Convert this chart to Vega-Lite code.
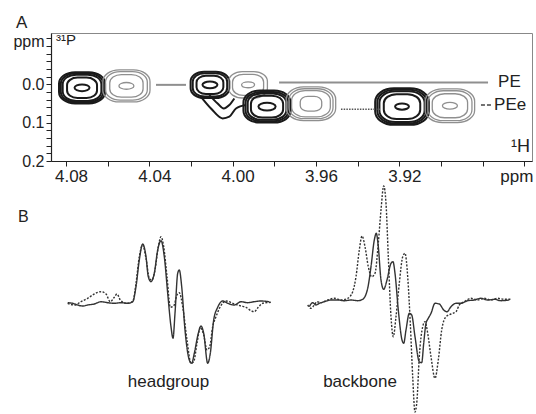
{
  "$schema": "https://vega.github.io/schema/vega-lite/v6.json",
  "padding": {"left": 5, "top": 13, "right": 0, "bottom": 0},
  "config": {
    "font": "Liberation Sans",
    "view": {"stroke": null},
    "concat": {"spacing": -4}
  },
  "datasets": {
    "contours": [
      {"peak": "b1", "spectrum": "S1", "kind": "ring", "h_ppm": 4.0723, "p_ppm": 0.009, "width": 0.0206},
      {"peak": "b1", "spectrum": "S1", "kind": "ring", "h_ppm": 4.0723, "p_ppm": 0.009, "width": 0.0190},
      {"peak": "b1", "spectrum": "S1", "kind": "ring", "h_ppm": 4.0723, "p_ppm": 0.009, "width": 0.0173},
      {"peak": "b1", "spectrum": "S1", "kind": "ring", "h_ppm": 4.0723, "p_ppm": 0.009, "width": 0.0134},
      {"peak": "b1", "spectrum": "S1", "kind": "core", "h_ppm": 4.0723, "p_ppm": 0.009, "width": 0.0067},
      {"peak": "g1", "spectrum": "S2", "kind": "ring", "h_ppm": 4.051, "p_ppm": 0.004, "width": 0.0211},
      {"peak": "g1", "spectrum": "S2", "kind": "ring", "h_ppm": 4.051, "p_ppm": 0.004, "width": 0.0187},
      {"peak": "g1", "spectrum": "S2", "kind": "ring", "h_ppm": 4.051, "p_ppm": 0.004, "width": 0.0149},
      {"peak": "g1", "spectrum": "S2", "kind": "core", "h_ppm": 4.051, "p_ppm": 0.004, "width": 0.0067},
      {"peak": "b2", "spectrum": "S1", "kind": "ring", "h_ppm": 4.0109, "p_ppm": 0.0013, "width": 0.0173},
      {"peak": "b2", "spectrum": "S1", "kind": "ring", "h_ppm": 4.0109, "p_ppm": 0.0013, "width": 0.0154},
      {"peak": "b2", "spectrum": "S1", "kind": "ring", "h_ppm": 4.0109, "p_ppm": 0.0013, "width": 0.0120},
      {"peak": "b2", "spectrum": "S1", "kind": "core", "h_ppm": 4.0109, "p_ppm": 0.0013, "width": 0.0067},
      {"peak": "g2", "spectrum": "S2", "kind": "ring", "h_ppm": 3.9926, "p_ppm": 0.0013, "width": 0.0173},
      {"peak": "g2", "spectrum": "S2", "kind": "ring", "h_ppm": 3.9926, "p_ppm": 0.0013, "width": 0.0139},
      {"peak": "g2", "spectrum": "S2", "kind": "core", "h_ppm": 3.9926, "p_ppm": 0.0013, "width": 0.0058},
      {"peak": "b3", "spectrum": "S1", "kind": "ring", "h_ppm": 3.9835, "p_ppm": 0.058, "width": 0.0211},
      {"peak": "b3", "spectrum": "S1", "kind": "ring", "h_ppm": 3.9835, "p_ppm": 0.058, "width": 0.0192},
      {"peak": "b3", "spectrum": "S1", "kind": "ring", "h_ppm": 3.9835, "p_ppm": 0.058, "width": 0.0173},
      {"peak": "b3", "spectrum": "S1", "kind": "ring", "h_ppm": 3.9835, "p_ppm": 0.058, "width": 0.0144},
      {"peak": "b3", "spectrum": "S1", "kind": "core", "h_ppm": 3.9835, "p_ppm": 0.058, "width": 0.0077},
      {"peak": "g3", "spectrum": "S2", "kind": "ring", "h_ppm": 3.9624, "p_ppm": 0.0506, "width": 0.0221},
      {"peak": "g3", "spectrum": "S2", "kind": "ring", "h_ppm": 3.9624, "p_ppm": 0.0506, "width": 0.0197},
      {"peak": "g3", "spectrum": "S2", "kind": "ring", "h_ppm": 3.9624, "p_ppm": 0.0506, "width": 0.0173},
      {"peak": "g3", "spectrum": "S2", "kind": "ring", "h_ppm": 3.9624, "p_ppm": 0.0506, "width": 0.0096},
      {"peak": "b4", "spectrum": "S1", "kind": "ring", "h_ppm": 3.9187, "p_ppm": 0.058, "width": 0.0240},
      {"peak": "b4", "spectrum": "S1", "kind": "ring", "h_ppm": 3.9187, "p_ppm": 0.058, "width": 0.0221},
      {"peak": "b4", "spectrum": "S1", "kind": "ring", "h_ppm": 3.9187, "p_ppm": 0.058, "width": 0.0202},
      {"peak": "b4", "spectrum": "S1", "kind": "ring", "h_ppm": 3.9187, "p_ppm": 0.058, "width": 0.0163},
      {"peak": "b4", "spectrum": "S1", "kind": "core", "h_ppm": 3.9187, "p_ppm": 0.058, "width": 0.0062},
      {"peak": "g4", "spectrum": "S2", "kind": "ring", "h_ppm": 3.8957, "p_ppm": 0.0558, "width": 0.0221},
      {"peak": "g4", "spectrum": "S2", "kind": "ring", "h_ppm": 3.8957, "p_ppm": 0.0558, "width": 0.0197},
      {"peak": "g4", "spectrum": "S2", "kind": "ring", "h_ppm": 3.8957, "p_ppm": 0.0558, "width": 0.0158},
      {"peak": "g4", "spectrum": "S2", "kind": "core", "h_ppm": 3.8957, "p_ppm": 0.0558, "width": 0.0067}
    ],
    "lobe": [
      {"contour": "outer", "h_ppm": 4.0152, "p_ppm": 0.0325},
      {"contour": "outer", "h_ppm": 4.0104, "p_ppm": 0.0629},
      {"contour": "outer", "h_ppm": 4.0048, "p_ppm": 0.0888},
      {"contour": "outer", "h_ppm": 4.0016, "p_ppm": 0.0844},
      {"contour": "outer", "h_ppm": 3.9984, "p_ppm": 0.0629},
      {"contour": "outer", "h_ppm": 3.9936, "p_ppm": 0.054},
      {"contour": "inner", "h_ppm": 4.0112, "p_ppm": 0.028},
      {"contour": "inner", "h_ppm": 4.0072, "p_ppm": 0.0499},
      {"contour": "inner", "h_ppm": 4.0043, "p_ppm": 0.0629},
      {"contour": "inner", "h_ppm": 4.0016, "p_ppm": 0.054},
      {"contour": "inner", "h_ppm": 3.9992, "p_ppm": 0.0369}
    ],
    "links": [
      {"species": "PE", "role": "link", "from": 4.0368, "to": 4.0224, "p_ppm": 0.0013},
      {"species": "PE", "role": "link", "from": 3.9777, "to": 3.8774, "p_ppm": -0.0047},
      {"species": "PEe", "role": "link", "from": 3.948, "to": 3.9293, "p_ppm": 0.065},
      {"species": "PEe", "role": "key", "from": 3.8808, "to": 3.876, "p_ppm": 0.054}
    ],
    "species": [
      {"label": "PE", "h_ppm": 3.8726, "p_ppm": 0.0065},
      {"label": "PEe", "h_ppm": 3.8745, "p_ppm": 0.067}
    ],
    "traces": [
      {"trace": "headgroup", "kind": "experiment", "pos": 16.7, "intensity": -0.7},
      {"trace": "headgroup", "kind": "experiment", "pos": 21.7, "intensity": -1.3},
      {"trace": "headgroup", "kind": "experiment", "pos": 26.7, "intensity": -3},
      {"trace": "headgroup", "kind": "experiment", "pos": 31.7, "intensity": -4},
      {"trace": "headgroup", "kind": "experiment", "pos": 36.7, "intensity": -3},
      {"trace": "headgroup", "kind": "experiment", "pos": 43.3, "intensity": -2},
      {"trace": "headgroup", "kind": "experiment", "pos": 50, "intensity": 0.3},
      {"trace": "headgroup", "kind": "experiment", "pos": 56.7, "intensity": -0.7},
      {"trace": "headgroup", "kind": "experiment", "pos": 63.3, "intensity": -1.3},
      {"trace": "headgroup", "kind": "experiment", "pos": 70, "intensity": -0.7},
      {"trace": "headgroup", "kind": "experiment", "pos": 76.7, "intensity": -1.3},
      {"trace": "headgroup", "kind": "experiment", "pos": 81.7, "intensity": 0.3},
      {"trace": "headgroup", "kind": "experiment", "pos": 85, "intensity": 15.3},
      {"trace": "headgroup", "kind": "experiment", "pos": 88.3, "intensity": 42},
      {"trace": "headgroup", "kind": "experiment", "pos": 91.7, "intensity": 58},
      {"trace": "headgroup", "kind": "experiment", "pos": 95, "intensity": 45.3},
      {"trace": "headgroup", "kind": "experiment", "pos": 97.3, "intensity": 25.3},
      {"trace": "headgroup", "kind": "experiment", "pos": 100, "intensity": 20.3},
      {"trace": "headgroup", "kind": "experiment", "pos": 103.3, "intensity": 28.7},
      {"trace": "headgroup", "kind": "experiment", "pos": 106.7, "intensity": 52},
      {"trace": "headgroup", "kind": "experiment", "pos": 110, "intensity": 61.3},
      {"trace": "headgroup", "kind": "experiment", "pos": 113.3, "intensity": 45.3},
      {"trace": "headgroup", "kind": "experiment", "pos": 116.7, "intensity": 8.7},
      {"trace": "headgroup", "kind": "experiment", "pos": 120, "intensity": -24.7},
      {"trace": "headgroup", "kind": "experiment", "pos": 122, "intensity": -36.3},
      {"trace": "headgroup", "kind": "experiment", "pos": 124, "intensity": -11.3},
      {"trace": "headgroup", "kind": "experiment", "pos": 126.7, "intensity": 28.7},
      {"trace": "headgroup", "kind": "experiment", "pos": 128.3, "intensity": 32},
      {"trace": "headgroup", "kind": "experiment", "pos": 130.7, "intensity": 15.3},
      {"trace": "headgroup", "kind": "experiment", "pos": 134, "intensity": -28},
      {"trace": "headgroup", "kind": "experiment", "pos": 138.3, "intensity": -58},
      {"trace": "headgroup", "kind": "experiment", "pos": 140.7, "intensity": -61.3},
      {"trace": "headgroup", "kind": "experiment", "pos": 143.3, "intensity": -51.3},
      {"trace": "headgroup", "kind": "experiment", "pos": 147.3, "intensity": -31.3},
      {"trace": "headgroup", "kind": "experiment", "pos": 150, "intensity": -24},
      {"trace": "headgroup", "kind": "experiment", "pos": 152.7, "intensity": -31.3},
      {"trace": "headgroup", "kind": "experiment", "pos": 156.7, "intensity": -61.3},
      {"trace": "headgroup", "kind": "experiment", "pos": 159.3, "intensity": -51.3},
      {"trace": "headgroup", "kind": "experiment", "pos": 162.7, "intensity": -18},
      {"trace": "headgroup", "kind": "experiment", "pos": 166.7, "intensity": -5.3},
      {"trace": "headgroup", "kind": "experiment", "pos": 171.7, "intensity": 1},
      {"trace": "headgroup", "kind": "experiment", "pos": 176.7, "intensity": -1.3},
      {"trace": "headgroup", "kind": "experiment", "pos": 183.3, "intensity": -3},
      {"trace": "headgroup", "kind": "experiment", "pos": 190, "intensity": 0.3},
      {"trace": "headgroup", "kind": "experiment", "pos": 196.7, "intensity": -0.7},
      {"trace": "headgroup", "kind": "experiment", "pos": 203.3, "intensity": 0.3},
      {"trace": "headgroup", "kind": "experiment", "pos": 210, "intensity": 1},
      {"trace": "headgroup", "kind": "experiment", "pos": 218.3, "intensity": 0.3},
      {"trace": "headgroup", "kind": "simulation", "pos": 16.7, "intensity": -1.3},
      {"trace": "headgroup", "kind": "simulation", "pos": 23.3, "intensity": -3},
      {"trace": "headgroup", "kind": "simulation", "pos": 30, "intensity": 0.3},
      {"trace": "headgroup", "kind": "simulation", "pos": 36.7, "intensity": 3.7},
      {"trace": "headgroup", "kind": "simulation", "pos": 43.3, "intensity": 8},
      {"trace": "headgroup", "kind": "simulation", "pos": 50, "intensity": 10.3},
      {"trace": "headgroup", "kind": "simulation", "pos": 55, "intensity": 8},
      {"trace": "headgroup", "kind": "simulation", "pos": 59.3, "intensity": 0.3},
      {"trace": "headgroup", "kind": "simulation", "pos": 63.3, "intensity": 4.7},
      {"trace": "headgroup", "kind": "simulation", "pos": 66, "intensity": 8},
      {"trace": "headgroup", "kind": "simulation", "pos": 69.3, "intensity": 2},
      {"trace": "headgroup", "kind": "simulation", "pos": 75, "intensity": -1.3},
      {"trace": "headgroup", "kind": "simulation", "pos": 81.7, "intensity": 0.3},
      {"trace": "headgroup", "kind": "simulation", "pos": 85, "intensity": 18.7},
      {"trace": "headgroup", "kind": "simulation", "pos": 88.3, "intensity": 45.3},
      {"trace": "headgroup", "kind": "simulation", "pos": 91.7, "intensity": 57},
      {"trace": "headgroup", "kind": "simulation", "pos": 95, "intensity": 43.7},
      {"trace": "headgroup", "kind": "simulation", "pos": 98.3, "intensity": 23.7},
      {"trace": "headgroup", "kind": "simulation", "pos": 100.7, "intensity": 22},
      {"trace": "headgroup", "kind": "simulation", "pos": 104, "intensity": 32},
      {"trace": "headgroup", "kind": "simulation", "pos": 107.3, "intensity": 55.3},
      {"trace": "headgroup", "kind": "simulation", "pos": 110, "intensity": 65.3},
      {"trace": "headgroup", "kind": "simulation", "pos": 112.7, "intensity": 55.3},
      {"trace": "headgroup", "kind": "simulation", "pos": 116, "intensity": 25.3},
      {"trace": "headgroup", "kind": "simulation", "pos": 119.3, "intensity": -5.3},
      {"trace": "headgroup", "kind": "simulation", "pos": 122.7, "intensity": -4},
      {"trace": "headgroup", "kind": "simulation", "pos": 126, "intensity": 7},
      {"trace": "headgroup", "kind": "simulation", "pos": 128.3, "intensity": 9.3},
      {"trace": "headgroup", "kind": "simulation", "pos": 131.7, "intensity": -4.7},
      {"trace": "headgroup", "kind": "simulation", "pos": 136, "intensity": -38},
      {"trace": "headgroup", "kind": "simulation", "pos": 140, "intensity": -61.3},
      {"trace": "headgroup", "kind": "simulation", "pos": 142.7, "intensity": -59.7},
      {"trace": "headgroup", "kind": "simulation", "pos": 146, "intensity": -41.3},
      {"trace": "headgroup", "kind": "simulation", "pos": 149.3, "intensity": -25.3},
      {"trace": "headgroup", "kind": "simulation", "pos": 152.7, "intensity": -33},
      {"trace": "headgroup", "kind": "simulation", "pos": 156, "intensity": -48},
      {"trace": "headgroup", "kind": "simulation", "pos": 158.7, "intensity": -44.7},
      {"trace": "headgroup", "kind": "simulation", "pos": 161.7, "intensity": -24.7},
      {"trace": "headgroup", "kind": "simulation", "pos": 165, "intensity": -14.7},
      {"trace": "headgroup", "kind": "simulation", "pos": 169.3, "intensity": -4.7},
      {"trace": "headgroup", "kind": "simulation", "pos": 175, "intensity": 1},
      {"trace": "headgroup", "kind": "simulation", "pos": 183.3, "intensity": -2},
      {"trace": "headgroup", "kind": "simulation", "pos": 190, "intensity": -4},
      {"trace": "headgroup", "kind": "simulation", "pos": 195, "intensity": -5.3},
      {"trace": "headgroup", "kind": "simulation", "pos": 200, "intensity": -8.7},
      {"trace": "headgroup", "kind": "simulation", "pos": 203.3, "intensity": -9.7},
      {"trace": "headgroup", "kind": "simulation", "pos": 207.3, "intensity": -5.3},
      {"trace": "headgroup", "kind": "simulation", "pos": 211.7, "intensity": -1.3},
      {"trace": "headgroup", "kind": "simulation", "pos": 220, "intensity": -0.3},
      {"trace": "backbone", "kind": "experiment", "pos": 258.3, "intensity": -4.7},
      {"trace": "backbone", "kind": "experiment", "pos": 261.7, "intensity": -0.7},
      {"trace": "backbone", "kind": "experiment", "pos": 265, "intensity": -3},
      {"trace": "backbone", "kind": "experiment", "pos": 268.3, "intensity": -1.3},
      {"trace": "backbone", "kind": "experiment", "pos": 273.3, "intensity": 0.3},
      {"trace": "backbone", "kind": "experiment", "pos": 280, "intensity": 2},
      {"trace": "backbone", "kind": "experiment", "pos": 286.7, "intensity": 2},
      {"trace": "backbone", "kind": "experiment", "pos": 293.3, "intensity": 1.3},
      {"trace": "backbone", "kind": "experiment", "pos": 300, "intensity": 2},
      {"trace": "backbone", "kind": "experiment", "pos": 306.7, "intensity": 1.3},
      {"trace": "backbone", "kind": "experiment", "pos": 311.7, "intensity": 2.7},
      {"trace": "backbone", "kind": "experiment", "pos": 316.7, "intensity": 13.7},
      {"trace": "backbone", "kind": "experiment", "pos": 320, "intensity": 35.3},
      {"trace": "backbone", "kind": "experiment", "pos": 323.3, "intensity": 62},
      {"trace": "backbone", "kind": "experiment", "pos": 325.3, "intensity": 68.7},
      {"trace": "backbone", "kind": "experiment", "pos": 327.3, "intensity": 55.3},
      {"trace": "backbone", "kind": "experiment", "pos": 330, "intensity": 22},
      {"trace": "backbone", "kind": "experiment", "pos": 332.7, "intensity": 12.7},
      {"trace": "backbone", "kind": "experiment", "pos": 336, "intensity": 22},
      {"trace": "backbone", "kind": "experiment", "pos": 340, "intensity": 38.7},
      {"trace": "backbone", "kind": "experiment", "pos": 342, "intensity": 40.3},
      {"trace": "backbone", "kind": "experiment", "pos": 344, "intensity": 28.7},
      {"trace": "backbone", "kind": "experiment", "pos": 347.3, "intensity": -8},
      {"trace": "backbone", "kind": "experiment", "pos": 351, "intensity": -38},
      {"trace": "backbone", "kind": "experiment", "pos": 352.7, "intensity": -41.3},
      {"trace": "backbone", "kind": "experiment", "pos": 355, "intensity": -28},
      {"trace": "backbone", "kind": "experiment", "pos": 358.3, "intensity": -11.3},
      {"trace": "backbone", "kind": "experiment", "pos": 360.7, "intensity": -13},
      {"trace": "backbone", "kind": "experiment", "pos": 364, "intensity": -34.7},
      {"trace": "backbone", "kind": "experiment", "pos": 368.3, "intensity": -59.7},
      {"trace": "backbone", "kind": "experiment", "pos": 370.7, "intensity": -60.7},
      {"trace": "backbone", "kind": "experiment", "pos": 372.7, "intensity": -41.3},
      {"trace": "backbone", "kind": "experiment", "pos": 375, "intensity": -21.3},
      {"trace": "backbone", "kind": "experiment", "pos": 377.3, "intensity": -16.3},
      {"trace": "backbone", "kind": "experiment", "pos": 380, "intensity": -11.3},
      {"trace": "backbone", "kind": "experiment", "pos": 384, "intensity": -1.3},
      {"trace": "backbone", "kind": "experiment", "pos": 388.3, "intensity": -2},
      {"trace": "backbone", "kind": "experiment", "pos": 392.7, "intensity": -8},
      {"trace": "backbone", "kind": "experiment", "pos": 396, "intensity": -9.7},
      {"trace": "backbone", "kind": "experiment", "pos": 400, "intensity": -4.7},
      {"trace": "backbone", "kind": "experiment", "pos": 405, "intensity": -1.3},
      {"trace": "backbone", "kind": "experiment", "pos": 410, "intensity": -1.3},
      {"trace": "backbone", "kind": "experiment", "pos": 416.7, "intensity": 1.3},
      {"trace": "backbone", "kind": "experiment", "pos": 423.3, "intensity": 2},
      {"trace": "backbone", "kind": "experiment", "pos": 430, "intensity": 3.7},
      {"trace": "backbone", "kind": "experiment", "pos": 436.7, "intensity": 2},
      {"trace": "backbone", "kind": "experiment", "pos": 443.3, "intensity": 2.7},
      {"trace": "backbone", "kind": "experiment", "pos": 450, "intensity": 1.3},
      {"trace": "backbone", "kind": "experiment", "pos": 458.3, "intensity": 2},
      {"trace": "backbone", "kind": "simulation", "pos": 256.7, "intensity": -3},
      {"trace": "backbone", "kind": "simulation", "pos": 260, "intensity": -6.3},
      {"trace": "backbone", "kind": "simulation", "pos": 263.3, "intensity": -3},
      {"trace": "backbone", "kind": "simulation", "pos": 266, "intensity": 0.3},
      {"trace": "backbone", "kind": "simulation", "pos": 270, "intensity": -0.7},
      {"trace": "backbone", "kind": "simulation", "pos": 276.7, "intensity": 2},
      {"trace": "backbone", "kind": "simulation", "pos": 283.3, "intensity": 3.7},
      {"trace": "backbone", "kind": "simulation", "pos": 290, "intensity": 2},
      {"trace": "backbone", "kind": "simulation", "pos": 296.7, "intensity": 3.7},
      {"trace": "backbone", "kind": "simulation", "pos": 301.7, "intensity": 10.3},
      {"trace": "backbone", "kind": "simulation", "pos": 305, "intensity": 25.3},
      {"trace": "backbone", "kind": "simulation", "pos": 308.3, "intensity": 52},
      {"trace": "backbone", "kind": "simulation", "pos": 311, "intensity": 66},
      {"trace": "backbone", "kind": "simulation", "pos": 314, "intensity": 55.3},
      {"trace": "backbone", "kind": "simulation", "pos": 317.3, "intensity": 35.3},
      {"trace": "backbone", "kind": "simulation", "pos": 320.7, "intensity": 25.3},
      {"trace": "backbone", "kind": "simulation", "pos": 324, "intensity": 28.7},
      {"trace": "backbone", "kind": "simulation", "pos": 327.3, "intensity": 58.7},
      {"trace": "backbone", "kind": "simulation", "pos": 330, "intensity": 92},
      {"trace": "backbone", "kind": "simulation", "pos": 332.7, "intensity": 116},
      {"trace": "backbone", "kind": "simulation", "pos": 335, "intensity": 98.7},
      {"trace": "backbone", "kind": "simulation", "pos": 337.3, "intensity": 45.3},
      {"trace": "backbone", "kind": "simulation", "pos": 340, "intensity": -14.7},
      {"trace": "backbone", "kind": "simulation", "pos": 342.3, "intensity": -34.7},
      {"trace": "backbone", "kind": "simulation", "pos": 345, "intensity": -14.7},
      {"trace": "backbone", "kind": "simulation", "pos": 348.3, "intensity": 18.7},
      {"trace": "backbone", "kind": "simulation", "pos": 351.7, "intensity": 45.3},
      {"trace": "backbone", "kind": "simulation", "pos": 354, "intensity": 48.7},
      {"trace": "backbone", "kind": "simulation", "pos": 356.7, "intensity": 25.3},
      {"trace": "backbone", "kind": "simulation", "pos": 359.3, "intensity": -21.3},
      {"trace": "backbone", "kind": "simulation", "pos": 361.7, "intensity": -74.7},
      {"trace": "backbone", "kind": "simulation", "pos": 364, "intensity": -110},
      {"trace": "backbone", "kind": "simulation", "pos": 366, "intensity": -98},
      {"trace": "backbone", "kind": "simulation", "pos": 368.3, "intensity": -54.7},
      {"trace": "backbone", "kind": "simulation", "pos": 371.7, "intensity": -24.7},
      {"trace": "backbone", "kind": "simulation", "pos": 374, "intensity": -19.7},
      {"trace": "backbone", "kind": "simulation", "pos": 376.7, "intensity": -31.3},
      {"trace": "backbone", "kind": "simulation", "pos": 380, "intensity": -54.7},
      {"trace": "backbone", "kind": "simulation", "pos": 384, "intensity": -76.3},
      {"trace": "backbone", "kind": "simulation", "pos": 387.3, "intensity": -58},
      {"trace": "backbone", "kind": "simulation", "pos": 390.7, "intensity": -28},
      {"trace": "backbone", "kind": "simulation", "pos": 395, "intensity": -14.7},
      {"trace": "backbone", "kind": "simulation", "pos": 400, "intensity": -12},
      {"trace": "backbone", "kind": "simulation", "pos": 405, "intensity": -9.7},
      {"trace": "backbone", "kind": "simulation", "pos": 408.3, "intensity": -3},
      {"trace": "backbone", "kind": "simulation", "pos": 413.3, "intensity": 0.3},
      {"trace": "backbone", "kind": "simulation", "pos": 420, "intensity": 3.7},
      {"trace": "backbone", "kind": "simulation", "pos": 426.7, "intensity": 2},
      {"trace": "backbone", "kind": "simulation", "pos": 433.3, "intensity": 3.7},
      {"trace": "backbone", "kind": "simulation", "pos": 440, "intensity": 2},
      {"trace": "backbone", "kind": "simulation", "pos": 446.7, "intensity": 3.7},
      {"trace": "backbone", "kind": "simulation", "pos": 453.3, "intensity": 2.7},
      {"trace": "backbone", "kind": "simulation", "pos": 460, "intensity": 2.7}
    ],
    "trace_labels": [
      {"label": "headgroup", "pos": 117.5, "intensity": -85},
      {"label": "backbone", "pos": 309, "intensity": -85}
    ]
  },
  "vconcat": [
    {
      "width": 481,
      "height": 128,
      "title": {"text": "A", "anchor": "start", "frame": "group", "dx": -35, "fontSize": 17, "fontWeight": "normal", "offset": -2, "color": "#222", "font": "Liberation Sans"},
      "view": {"stroke": "#888", "strokeWidth": 1},
      "layer": [
        {
          "data": {"name": "contours"},
          "mark": {"type": "point", "filled": false, "opacity": 1},
          "encoding": {
            "x": {
              "field": "h_ppm", "type": "quantitative",
              "scale": {"domain": [4.0872, 3.8563], "nice": false, "zero": false},
              "axis": {
                "orient": "bottom",
                "title": null,
                "grid": false,
                "values": [4.08, 4.07, 4.06, 4.05, 4.04, 4.03, 4.02, 4.01, 4.0, 3.99, 3.98, 3.97, 3.96, 3.95, 3.94, 3.93, 3.92, 3.91, 3.9, 3.89, 3.88, 3.87, 3.86],
                "labelExpr": "datum.value < 3.865 ? 'ppm' : ((abs(datum.value*25 - round(datum.value*25)) < 0.01 && datum.value > 3.9) ? format(datum.value, '.2f') : '')",
                "domainColor": "#222", "domainWidth": 1.2,
                "tickColor": "#222", "tickSize": 5, "tickWidth": 1,
                "labelFontSize": 17, "labelColor": "#222", "labelPadding": 2,
                "labelOffset": {"condition": {"test": "datum.value < 3.865", "value": -8}, "value": 5},
                "labelFlush": false, "labelOverlap": false, "labelBound": false
              }
            },
            "y": {
              "field": "p_ppm", "type": "quantitative",
              "scale": {"domain": [0.2, -0.134], "nice": false, "zero": false},
              "axis": {
                "title": null,
                "grid": false,
                "tickCount": 17,
                "format": ".2f",
                "labelExpr": "datum.label == '-0.10' || datum.label == '−0.10' ? 'ppm' : (datum.label == '0.00' ? '0.0' : (datum.label == '0.10' ? '0.1' : (datum.label == '0.20' ? '0.2' : '')))",
                "domainColor": "#222", "domainWidth": 1.2,
                "tickColor": "#222", "tickWidth": 1, "tickSize": 5,
                "labelFontSize": 16, "labelColor": "#222", "labelPadding": 2,
                "labelOffset": {"condition": {"test": "abs(datum.value + 0.1) < 0.005", "value": -5}, "value": 0},
                "labelOverlap": false, "labelFlush": false, "labelBound": false,
                "minExtent": 45, "maxExtent": 45
              }
            },
            "size": {"field": "width", "type": "quantitative", "scale": {"type": "pow", "exponent": 2, "domain": [0, 0.02], "range": [0, 2000]}, "legend": null},
            "shape": {"field": "kind", "type": "nominal", "scale": {"domain": ["ring", "core"], "range": ["M-0.3,-0.68L0.3,-0.68C0.7,-0.68,1,-0.45,1,-0.18L1,0.18C1,0.45,0.7,0.68,0.3,0.68L-0.3,0.68C-0.7,0.68,-1,0.45,-1,0.18L-1,-0.18C-1,-0.45,-0.7,-0.68,-0.3,-0.68Z", "M-1,0C-1,-0.2485,-0.5523,-0.45,0,-0.45C0.5523,-0.45,1,-0.2485,1,0C1,0.2485,0.5523,0.45,0,0.45C-0.5523,0.45,-1,0.2485,-1,0Z"]}, "legend": null},
            "color": {"field": "spectrum", "type": "nominal", "scale": {"domain": ["S1", "S2"], "range": ["#1a1a1a", "#8f8f8f"]}, "legend": null},
            "strokeWidth": {"field": "spectrum", "type": "nominal", "scale": {"domain": ["S1", "S2"], "range": [2, 1.3]}, "legend": null}
          }
        },
        {
          "data": {"name": "lobe"},
          "mark": {"type": "line", "color": "#1a1a1a", "strokeWidth": 2, "interpolate": "monotone"},
          "encoding": {
            "x": {"field": "h_ppm", "type": "quantitative"},
            "y": {"field": "p_ppm", "type": "quantitative"},
            "detail": {"field": "contour"}
          }
        },
        {
          "data": {"name": "links"},
          "transform": [{"filter": "datum.species == 'PE'"}],
          "mark": {"type": "rule", "color": "#8f8f8f", "strokeWidth": 2},
          "encoding": {
            "x": {"field": "from", "type": "quantitative"},
            "x2": {"field": "to"},
            "y": {"field": "p_ppm", "type": "quantitative"}
          }
        },
        {
          "data": {"name": "links"},
          "transform": [{"filter": "datum.species == 'PEe' && datum.role == 'link'"}],
          "mark": {"type": "rule", "color": "#555", "strokeWidth": 1.5, "strokeDash": [1.5, 1.2]},
          "encoding": {
            "x": {"field": "from", "type": "quantitative"},
            "x2": {"field": "to"},
            "y": {"field": "p_ppm", "type": "quantitative"}
          }
        },
        {
          "data": {"name": "links"},
          "transform": [{"filter": "datum.role == 'key'"}],
          "mark": {"type": "rule", "color": "#444", "strokeWidth": 1.5, "strokeDash": [4, 2]},
          "encoding": {
            "x": {"field": "from", "type": "quantitative"},
            "x2": {"field": "to"},
            "y": {"field": "p_ppm", "type": "quantitative"}
          }
        },
        {
          "data": {"name": "species"},
          "mark": {"type": "text", "align": "left", "baseline": "alphabetic", "fontSize": 17, "color": "#222"},
          "encoding": {
            "x": {"field": "h_ppm", "type": "quantitative"},
            "y": {"field": "p_ppm", "type": "quantitative"},
            "text": {"field": "label"}
          }
        },
        {
          "data": {"values": [{"label": "³¹P", "h_ppm": 4.0848, "p_ppm": -0.1018}]},
          "mark": {"type": "text", "align": "left", "baseline": "alphabetic", "fontSize": 15, "color": "#222"},
          "encoding": {
            "x": {"field": "h_ppm", "type": "quantitative"},
            "y": {"field": "p_ppm", "type": "quantitative"},
            "text": {"field": "label"}
          }
        },
        {
          "data": {"values": [{"label": "¹H", "h_ppm": 3.8664, "p_ppm": 0.1753}]},
          "mark": {"type": "text", "align": "left", "baseline": "alphabetic", "fontSize": 18, "color": "#222"},
          "encoding": {
            "x": {"field": "h_ppm", "type": "quantitative"},
            "y": {"field": "p_ppm", "type": "quantitative"},
            "text": {"field": "label"}
          }
        }
      ]
    },
    {
      "width": 481,
      "height": 229,
      "layer": [
        {
          "data": {"name": "traces"},
          "mark": {"type": "line", "color": "#333", "strokeWidth": 1.4, "interpolate": "monotone"},
          "encoding": {
            "x": {"field": "pos", "type": "quantitative", "scale": {"domain": [0, 481], "nice": false, "zero": false}, "axis": null},
            "y": {"field": "intensity", "type": "quantitative", "scale": {"domain": [-112, 117], "nice": false, "zero": false}, "axis": null},
            "detail": {"field": "trace"},
            "strokeDash": {"field": "kind", "type": "nominal", "scale": {"domain": ["experiment", "simulation"], "range": [[1, 0], [2, 1.5]]}, "legend": null}
          }
        },
        {
          "data": {"name": "trace_labels"},
          "mark": {"type": "text", "align": "center", "baseline": "alphabetic", "fontSize": 17, "color": "#222"},
          "encoding": {
            "x": {"field": "pos", "type": "quantitative"},
            "y": {"field": "intensity", "type": "quantitative"},
            "text": {"field": "label"}
          }
        },
        {
          "data": {"values": [{"label": "B", "pos": -33, "intensity": 80.3}]},
          "mark": {"type": "text", "align": "left", "baseline": "alphabetic", "fontSize": 16, "color": "#222"},
          "encoding": {
            "x": {"field": "pos", "type": "quantitative"},
            "y": {"field": "intensity", "type": "quantitative"},
            "text": {"field": "label"}
          }
        }
      ]
    }
  ]
}
